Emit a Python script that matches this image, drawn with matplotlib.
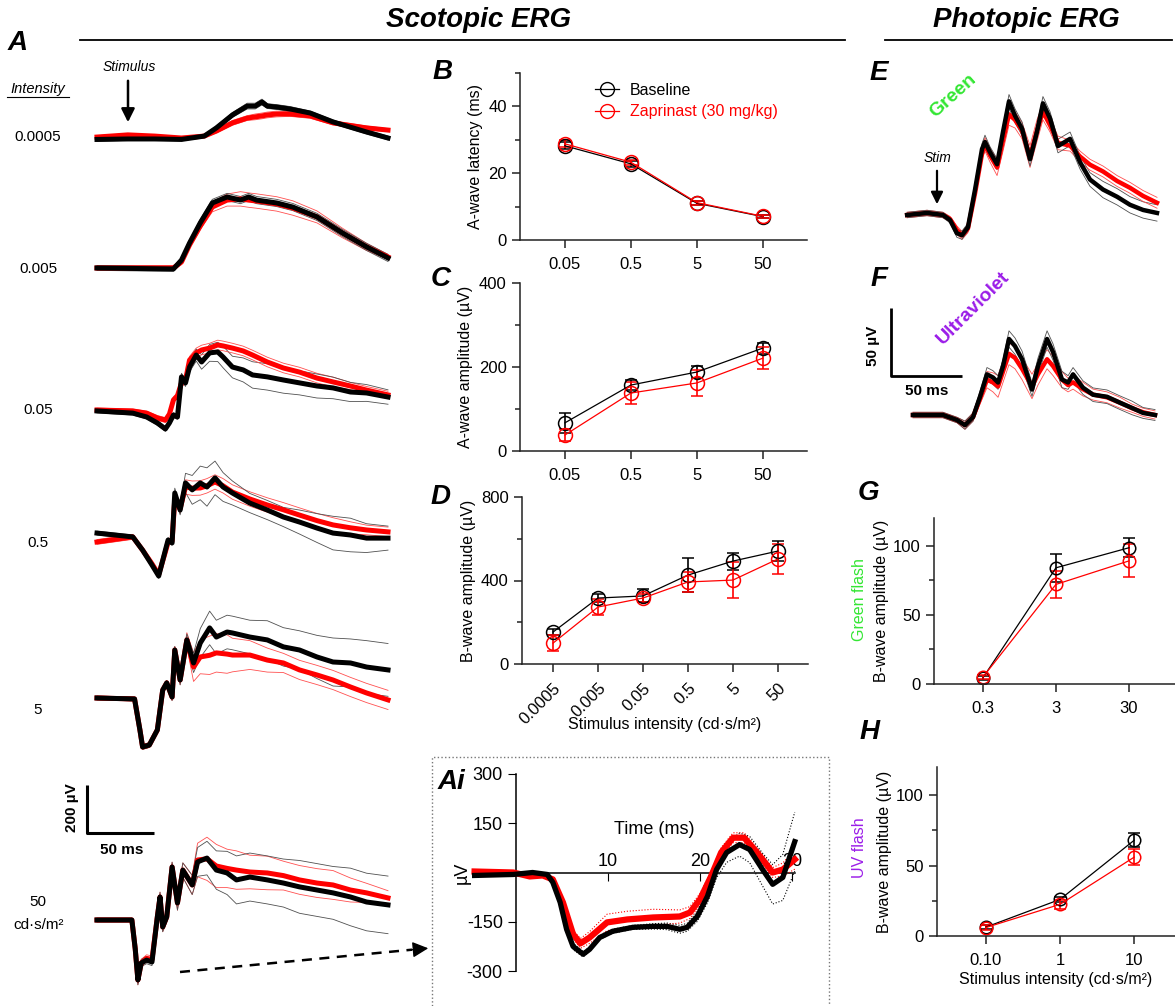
import numpy as np
import matplotlib
matplotlib.use("Agg")
from matplotlib import pyplot as plt
from matplotlib.lines import Line2D
from matplotlib.patches import Rectangle, FancyArrowPatch

plt.rcParams['font.family'] = ['Liberation Sans', 'DejaVu Sans']
plt.rcParams['axes.unicode_minus'] = False

# ---------------- data ----------------
# Panel A: scotopic ERG traces, time (ms) vs amplitude (uV), one list per intensity
int_labels = ['0.0005', '0.005', '0.05', '0.5', '5', '50']
a_time = [
    [-23, 0, 20, 40, 57, 66, 78, 89, 95, 100, 104, 111, 121, 136, 153, 178, 194],
    [-23, 34, 40, 46, 54, 63, 74, 84, 90, 96, 111, 123, 141, 160, 178, 194],
    [-23, 3.7, 14, 22, 28, 31, 34, 37, 40, 43, 46, 51, 55, 61, 67, 71, 78, 86, 93, 104, 116, 128, 141, 153, 166, 178, 194],
    [-23, 3.7, 11, 18, 23, 28, 30, 33, 35, 39, 43, 48, 54, 59, 65, 71, 78, 91, 104, 116, 128, 141, 153, 166, 178, 194],
    [-23, 5, 9, 11, 16, 22, 26, 29, 33, 35, 39, 44, 49, 54, 61, 66, 74, 78, 91, 104, 116, 128, 141, 153, 166, 178, 194],
    [-23, 3, 5.5, 7.5, 10, 14, 18, 22, 24, 26, 29, 33, 37, 41, 48, 52, 59, 66, 74, 81, 91, 104, 116, 128, 141, 153, 166, 178, 194],
]
a_base = [
    [-6, -4, -4, -6, 8, 42, 96, 133, 133, 150, 133, 129, 121, 104, 67, 25, 0],
    [0, -4, 33, 104, 188, 271, 296, 283, 296, 283, 271, 254, 213, 146, 88, 42],
    [-4, -13, -29, -54, -79, -54, -21, -29, 138, 113, 179, 229, 200, 238, 242, 221, 179, 167, 146, 138, 125, 113, 100, 92, 75, 71, 54],
    [8, -8, -63, -125, -171, -63, -21, -33, 175, 104, 217, 188, 217, 200, 238, 200, 175, 133, 104, 75, 54, 29, 8, 0, -13, -13],
    [0, -4, -133, -204, -196, -133, 33, 63, 4, 200, 75, 242, 146, 229, 292, 254, 275, 271, 254, 242, 213, 200, 171, 150, 146, 129, 117],
    [0, 0, -120, -250, -179, -167, -175, 13, 96, -29, 13, 221, 71, 208, 146, 242, 258, 208, 196, 167, 179, 167, 154, 138, 125, 113, 96, 75, 63],
]
a_zap = [
    [4, 13, 8, 0, 8, 29, 63, 83, 88, 92, 96, 100, 100, 92, 63, 42, 33],
    [0, 0, 25, 96, 175, 254, 283, 288, 283, 279, 267, 250, 213, 146, 88, 46],
    [0, -4, -13, -33, -42, -17, 42, 60, 113, 125, 208, 238, 250, 258, 271, 267, 258, 246, 229, 200, 175, 158, 133, 117, 100, 83, 63],
    [-29, -8, -63, -120, -165, -70, -30, -25, 150, 110, 200, 195, 196, 205, 221, 205, 179, 150, 125, 105, 83, 60, 42, 30, 21, 13],
    [0, -4, -133, -204, -196, -133, 33, 63, 4, 200, 75, 242, 129, 171, 178, 188, 183, 179, 179, 158, 146, 117, 96, 75, 46, 21, -8],
    [0, 0, -120, -250, -179, -160, -165, 13, 96, -29, 13, 221, 71, 208, 146, 250, 255, 225, 215, 208, 200, 196, 185, 167, 154, 146, 125, 113, 92],
]
a_base_sd = [
    [8, 6, 6, 6, 6, 8, 10, 12, 12, 12, 10, 10, 10, 8, 8, 8, 8],
    [10, 10, 10, 12, 15, 15, 15, 15, 15, 15, 15, 15, 15, 15, 15, 15],
    [8, 8, 8, 10, 10, 10, 10, 10, 15, 15, 20, 25, 30, 35, 40, 45, 45, 50, 55, 55, 55, 50, 50, 45, 40, 35, 30],
    [8, 8, 8, 10, 10, 10, 10, 10, 20, 20, 40, 60, 70, 80, 70, 60, 50, 40, 40, 40, 50, 60, 70, 70, 60, 50],
    [8, 8, 8, 10, 10, 10, 10, 10, 15, 15, 20, 25, 40, 60, 70, 70, 70, 70, 70, 80, 80, 80, 90, 100, 100, 110, 110],
    [8, 8, 15, 20, 15, 15, 15, 15, 20, 20, 20, 20, 30, 30, 40, 60, 70, 80, 90, 100, 100, 100, 100, 110, 110, 110, 120, 120, 120],
]
a_zap_sd = [
    [6, 5, 5, 5, 5, 8, 10, 10, 12, 12, 12, 12, 10, 10, 8, 8, 6],
    [10, 10, 10, 12, 15, 20, 25, 30, 30, 30, 30, 30, 25, 20, 15, 10],
    [8, 8, 8, 10, 10, 10, 10, 10, 15, 15, 15, 20, 20, 20, 20, 20, 20, 20, 20, 20, 20, 20, 20, 20, 15, 15, 15],
    [10, 10, 8, 10, 10, 10, 10, 10, 20, 20, 30, 30, 30, 30, 30, 30, 30, 30, 30, 30, 30, 30, 30, 25, 20, 20],
    [8, 8, 8, 10, 10, 10, 10, 10, 15, 15, 20, 30, 60, 70, 80, 80, 80, 70, 60, 50, 40, 40, 40, 40, 40, 40, 40],
    [8, 8, 15, 20, 15, 15, 15, 15, 20, 20, 20, 20, 30, 30, 40, 70, 90, 90, 80, 80, 70, 70, 60, 60, 60, 60, 50, 40, 30],
]

# Panel Ai: a-wave at 50 cd.s/m2
ai_t_base = [-4.5, -0.3, 1.8, 3.4, 4.0, 4.8, 5.5, 6.2, 7.3, 8.0, 9.1, 10.5, 12.7, 14.9, 16.4, 17.8, 18.6,
             19.7, 20.8, 21.8, 22.9, 24.3, 25.4, 26.8, 27.9, 29.0, 30.3]
ai_base = [-9, -6, 0, -6, -30, -91, -173, -225, -249, -234, -198, -179, -167, -164, -164, -173, -167,
           -134, -73, 9, 61, 85, 70, 9, -36, -15, 94]
ai_base_sem = [3, 3, 3, 3, 5, 8, 10, 10, 8, 6, 6, 6, 6, 8, 10, 12, 12, 15, 20, 25, 30, 35, 40, 50, 60, 70, 90]
ai_t_zap = [-4.5, -0.3, 1.5, 2.9, 4.0, 5.1, 6.2, 7.0, 8.0, 9.9, 12.1, 14.9, 17.8, 18.9, 20.0, 21.2,
            22.3, 23.6, 24.8, 26.2, 27.9, 29.0, 30.3]
ai_zap = [3, 0, -12, -9, -21, -91, -188, -216, -198, -152, -143, -137, -134, -122, -82, -12,
          61, 106, 106, 61, 0, 9, 40]
ai_zap_sem = [5, 5, 5, 5, 6, 8, 12, 15, 18, 25, 25, 25, 20, 18, 18, 15, 15, 15, 15, 15, 15, 20, 30]

# Panels B-D: scotopic summary
scot4 = ['0.05', '0.5', '5', '50']
scot6 = ['0.0005', '0.005', '0.05', '0.5', '5', '50']
lat_base = [28.2, 22.8, 11.0, 7.0]
lat_base_err = [1.0, 0.8, 0.6, 0.4]
lat_zap = [28.8, 23.3, 11.2, 7.1]
lat_zap_err = [1.0, 0.8, 0.6, 0.4]
aamp_base = [67, 157, 188, 245]
aamp_base_err = [23, 12, 15, 13]
aamp_zap = [38, 138, 162, 221]
aamp_zap_err = [15, 27, 30, 26]
bamp_base = [153, 316, 326, 426, 493, 541]
bamp_base_err = [15, 20, 31, 83, 41, 48]
bamp_zap = [100, 273, 316, 393, 402, 503]
bamp_zap_err = [38, 36, 20, 50, 86, 72]

# Panels E-F: photopic traces
e_time = [-21, -7, 4.2, 9.2, 14, 17.6, 21.8, 26.8, 31.7, 33.8, 37.3, 42.3, 46.5, 50.7, 54.9, 59.9, 65.5,
          70.4, 74.6, 79.6, 85.2, 93.7, 100.7, 107.7, 116.9, 126.8, 135.9, 145.1, 154.9]
e_base = [0, 1.5, 0, -3.7, -13.4, -14.9, -9, 18.7, 48.5, 53.7, 46.3, 37.3, 61.2, 83.6, 73.1, 63.4, 41,
          61.2, 82.1, 70.9, 50.7, 56, 38.8, 26.1, 18.7, 13.4, 7.5, 3.7, 1.5]
e_zap = [0, 1.5, 0, -3, -11, -15, -10, 16, 45, 52, 44, 35, 55, 74, 70, 62, 43,
         62, 76, 66, 53, 51, 43, 37, 32, 25, 20, 14, 9]
e_base_sd = [2, 2, 2, 2, 3, 3, 3, 3, 4, 5, 4, 4, 4, 5, 5, 5, 5, 5, 5, 5, 5, 5, 5, 5, 6, 6, 6, 6, 6]
e_zap_sd = [2, 2, 2, 2, 3, 3, 3, 3, 4, 5, 5, 6, 8, 8, 6, 6, 8, 8, 6, 5, 5, 4, 4, 4, 4, 4, 4, 4, 4]
f_time = [-16.9, 4.2, 14.1, 19.7, 25.4, 30.3, 35.2, 39.4, 43, 46.5, 50.7, 54.9, 59.9, 66.9, 71.1, 77.5,
          81.7, 88, 92.3, 95.8, 102.8, 109.9, 119.7, 128.9, 137.3, 145.1, 153.5]
f_base = [0, 0, -3.7, -7.5, -1.5, 13.4, 29.9, 27.6, 23.9, 35.8, 55.9, 50.7, 41, 18.7, 35.8, 55.9,
          46.3, 26.1, 23.9, 29.9, 20.1, 14.9, 13.4, 9, 5.2, 1.5, 0]
f_zap = [0, 0, -3.7, -7.5, -1.5, 12, 26, 24, 21, 32, 45, 42, 34, 21, 30, 41,
         36, 26, 22, 24, 19, 15, 13, 9, 5, 2, 0]
f_base_sd = [2, 2, 2, 3, 3, 4, 5, 5, 5, 5, 6, 6, 6, 5, 6, 6, 6, 6, 5, 5, 5, 5, 5, 5, 5, 4, 4]
f_zap_sd = [2, 2, 2, 3, 3, 4, 6, 7, 8, 8, 8, 8, 8, 9, 8, 7, 7, 6, 5, 5, 5, 4, 4, 4, 3, 3, 3]

# Panels G-H: photopic summary
green_cats = ['0.3', '3', '30']
green_base = [4.5, 84, 98.5]
green_base_err = [1.5, 10, 7]
green_zap = [5, 72, 89]
green_zap_err = [1.5, 9.5, 12]
uv_cats = ['0.10', '1', '10']
uv_base = [6.3, 26, 68]
uv_base_err = [1.5, 2, 5]
uv_zap = [6, 22.5, 56]
uv_zap_err = [1.5, 3, 5.5]

# ---------------- layout helpers ----------------
W, H = 1175, 1006
fig = plt.figure(figsize=(W / 100, H / 100), dpi=100)


def rect(x0, y0, x1, y1):
    return [x0 / W, 1 - y1 / H, (x1 - x0) / W, (y1 - y0) / H]


def fx(x):
    return x / W


def fy(y):
    return 1 - y / H


RED = '#ff0000'
GREEN = '#33e633'
PURPLE = '#9b1de8'
BI = dict(fontweight='bold', fontstyle='italic')


def letter(x, y, s):
    fig.text(fx(x), fy(y), s, ha='center', va='center', fontsize=20, **BI)


def traces(ax, t, base, zap, base_sd, zap_sd, off, lw_thin, lw_mean):
    t = np.array(t)
    b = np.array(base) + off
    z = np.array(zap) + off
    bs = np.array(base_sd)
    zs = np.array(zap_sd)
    for sgn in (1, -1):
        ax.plot(t, z + sgn * zs, color='#ff5050', lw=lw_thin, clip_on=False)
        ax.plot(t, b + sgn * bs, color='#505050', lw=lw_thin, clip_on=False)
    ax.plot(t, z, color=RED, lw=lw_mean, clip_on=False, solid_joinstyle='round')
    ax.plot(t, b, color='black', lw=lw_mean, clip_on=False, solid_joinstyle='round')


# ---------------- headers ----------------
fig.text(fx(479), fy(20), 'Scotopic ERG', ha='center', va='center', fontsize=20, **BI)
fig.text(fx(1026), fy(20), 'Photopic ERG', ha='center', va='center', fontsize=20, **BI)
fig.add_artist(Line2D([fx(80), fx(845)], [fy(40), fy(40)], color='black', lw=1.3))
fig.add_artist(Line2D([fx(885), fx(1172)], [fy(40), fy(40)], color='black', lw=1.3))

# ---------------- panel A ----------------
axA = fig.add_axes(rect(97, 60, 388, 1000))
axA.set_xlim(-23, 194)
axA.set_ylim(0, 940 / 0.24)
axA.axis('off')
base_px = [138, 268, 410, 535, 698, 920]
label_px = [137, 269, 410, 543, 710, 902]
for i in range(len(int_labels)):
    off = (1000 - base_px[i]) / 0.24
    traces(axA, a_time[i], a_base[i], a_zap[i], a_base_sd[i], a_zap_sd[i], off, 0.6, 3.6)
    fig.text(fx(38), fy(label_px[i]), int_labels[i], ha='center', va='center', fontsize=11)
fig.text(fx(39), fy(925), 'cd·s/m²', ha='center', va='center', fontsize=11)
fig.text(fx(38), fy(89), 'Intensity', ha='center', va='center', fontsize=10.5, fontstyle='italic')
fig.add_artist(Line2D([fx(7), fx(69)], [fy(97), fy(97)], color='black', lw=0.8))
fig.text(fx(129), fy(67), 'Stimulus', ha='center', va='center', fontsize=10, fontstyle='italic')
fig.add_artist(FancyArrowPatch((fx(128), fy(78)), (fx(128), fy(125)), transform=fig.transFigure,
                               arrowstyle='-|>', mutation_scale=20, lw=1.8, color='black'))
# scale bar 200 uV / 50 ms
sb_y = (1000 - 833) / 0.24
axA.plot([-30.6, -30.6, 19.4], [sb_y + 200, sb_y, sb_y], color='black', lw=2.2, clip_on=False,
         solid_capstyle='butt')
fig.text(fx(72), fy(808), '200 µV', rotation=90, ha='center', va='center', fontsize=11, fontweight='bold')
fig.text(fx(122), fy(850), '50 ms', ha='center', va='center', fontsize=11, fontweight='bold')
letter(18, 43, 'A')

# dashed arrow to Ai
fig.add_artist(Line2D([fx(180), fx(412)], [fy(972), fy(949.7)], color='black', lw=1.8, ls=(0, (4, 3))))
fig.add_artist(FancyArrowPatch((fx(405), fy(950.4)), (fx(431), fy(948)), transform=fig.transFigure,
                               arrowstyle='-|>', mutation_scale=24, lw=1.0, color='black'))


# ---------------- panels B-D, G-H ----------------
def dose_panel(px, cats, base, base_err, zap, zap_err, ylim, major, minor, xlim, ms, rot=False):
    ax = fig.add_axes(rect(*px))
    x = np.arange(len(cats))
    kw = dict(marker='o', mfc='none', ms=ms, mew=1.1, lw=0.9, elinewidth=1.2, capsize=4, capthick=1.2)
    ax.errorbar(x, base, yerr=base_err, color='black', **kw)
    ax.errorbar(x, zap, yerr=zap_err, color=RED, **kw)
    ax.set_xlim(*xlim)
    ax.set_ylim(*ylim)
    ax.set_yticks(major)
    ax.set_yticks(minor, minor=True)
    if rot:
        ax.set_xticks(x)
        ax.set_xticklabels(cats, rotation=45, ha='right', rotation_mode='anchor')
    else:
        ax.set_xticks(x, cats)
    for s in ('top', 'right'):
        ax.spines[s].set_visible(False)
    for s in ('left', 'bottom'):
        ax.spines[s].set_linewidth(1.1)
        ax.spines[s].set_color('#222222')
    ax.tick_params(which='major', length=6, width=1.1, labelsize=12, color='#222222')
    ax.tick_params(which='minor', length=3.5, width=1.1, color='#222222')
    ax.tick_params(axis='x', pad=6)
    return ax


axB = dose_panel((520, 73, 807, 240), scot4, lat_base, lat_base_err, lat_zap, lat_zap_err,
                 (0, 50), [0, 20, 40], [10, 30, 50], (-0.68, 3.67), 10)
axB.set_ylabel('A-wave latency (ms)', fontsize=11.5, labelpad=4)
handles = [Line2D([], [], color='black', marker='o', mfc='none', ms=10, lw=0.9),
           Line2D([], [], color=RED, marker='o', mfc='none', ms=10, lw=0.9)]
axB.legend(handles, ['Baseline', 'Zaprinast (30 mg/kg)'], loc='upper left', bbox_to_anchor=(0.26, 0.94),
           frameon=False, handlelength=1.5, handletextpad=0.7, labelspacing=0.4, fontsize=11.5,
           labelcolor=['black', RED], borderaxespad=0, borderpad=0)
letter(443, 72, 'B')

axC = dose_panel((520, 283, 807, 451), scot4, aamp_base, aamp_base_err, aamp_zap, aamp_zap_err,
                 (0, 400), [0, 200, 400], [100, 300], (-0.68, 3.67), 10)
axC.set_ylabel('A-wave amplitude (µV)', fontsize=11.5, labelpad=4)
letter(441, 279, 'C')

axD = dose_panel((522, 497, 808, 664), scot6, bamp_base, bamp_base_err, bamp_zap, bamp_zap_err,
                 (0, 800), [0, 400, 800], [200, 600], (-0.69, 5.67), 10, rot=True)
axD.set_ylabel('B-wave amplitude (µV)', fontsize=11.5, labelpad=4)
axD.set_xlabel('Stimulus intensity (cd·s/m²)', fontsize=11.5, labelpad=-7)
letter(441, 497, 'D')

axG = dose_panel((934, 518, 1175, 684), green_cats, green_base, green_base_err, green_zap, green_zap_err,
                 (0, 120), [0, 50, 100], [25, 75], (-0.67, 2.63), 9)
axG.set_ylabel('B-wave amplitude (µV)', fontsize=11.5, labelpad=3)
fig.text(fx(860), fy(600), 'Green flash', rotation=90, ha='center', va='center', fontsize=11.5, color=GREEN)
letter(868, 493, 'G')

axH = dose_panel((937, 767, 1175, 936), uv_cats, uv_base, uv_base_err, uv_zap, uv_zap_err,
                 (0, 120), [0, 50, 100], [25, 75], (-0.66, 2.55), 9)
axH.set_ylabel('B-wave amplitude (µV)', fontsize=11.5, labelpad=3)
axH.set_xlabel('Stimulus intensity (cd·s/m²)', fontsize=11.5, labelpad=3)
fig.text(fx(860), fy(848), 'UV flash', rotation=90, ha='center', va='center', fontsize=11.5, color=PURPLE)
letter(870, 732, 'H')

# ---------------- panel Ai ----------------
fig.add_artist(Rectangle((fx(432), fy(1012)), fx(829) - fx(432), fy(757) - fy(1012),
                         transform=fig.transFigure, fill=False, ls=':', lw=1.0, ec='#777777'))
axAi = fig.add_axes(rect(470, 774, 800, 971))
axAi.set_xlim(-5, 30.87)
axAi.set_ylim(-300, 300)
for s in ('bottom', 'right'):
    axAi.spines[s].set_visible(False)
axAi.spines['left'].set_position(('data', 0))
axAi.spines['top'].set_position(('data', 0))
axAi.spines['top'].set_bounds(0, 30.3)
axAi.xaxis.set_ticks_position('top')
axAi.set_xticks([10, 20, 30])
axAi.set_yticks([-300, -150, 150, 300])
axAi.tick_params(axis='x', direction='in', length=6, labelsize=13, pad=2)
axAi.tick_params(axis='y', direction='out', length=6, labelsize=13)
for s in ('left', 'top'):
    axAi.spines[s].set_linewidth(1.1)
zb = np.array(ai_base)
zz = np.array(ai_zap)
for sgn in (1, -1):
    axAi.plot(ai_t_zap, zz + sgn * np.array(ai_zap_sem), color=RED, lw=0.8, ls=':', zorder=3)
    axAi.plot(ai_t_base, zb + sgn * np.array(ai_base_sem), color='black', lw=0.8, ls=':', zorder=3)
axAi.plot(ai_t_zap, zz, color=RED, lw=4.5, zorder=3, solid_joinstyle='round')
axAi.plot(ai_t_base, zb, color='black', lw=3.8, zorder=4, solid_joinstyle='round')
axAi.text(15, 130, 'Time (ms)', ha='center', va='center', fontsize=13)
axAi.text(-5.8, 0, 'µV', rotation=90, ha='center', va='center', fontsize=13)
letter(451, 782, 'Ai')

# ---------------- panels E-F ----------------
axE = fig.add_axes(rect(907, 60, 1158, 440))
axE.set_xlim(-21.1, 155.6)
axE.set_ylim(0, 380 / 1.36)
axE.axis('off')
traces(axE, e_time, e_base, e_zap, e_base_sd, e_zap_sd, (440 - 215) / 1.36, 0.6, 3.2)
traces(axE, f_time, f_base, f_zap, f_base_sd, f_zap_sd, (440 - 415) / 1.36, 0.6, 3.2)
sb = (440 - 376) / 1.36
axE.plot([-32.4, -32.4, 17.6], [sb + 50, sb, sb], color='black', lw=2.0, clip_on=False,
         solid_capstyle='butt')
fig.text(fx(873), fy(346), '50 µV', rotation=90, ha='center', va='center', fontsize=11, fontweight='bold')
fig.text(fx(927), fy(391), '50 ms', ha='center', va='center', fontsize=11, fontweight='bold')
fig.text(fx(953), fy(96), 'Green', rotation=42, ha='center', va='center', fontsize=14,
         fontweight='bold', color=GREEN)
fig.text(fx(973), fy(308), 'Ultraviolet', rotation=45, ha='center', va='center', fontsize=14,
         fontweight='bold', color=PURPLE)
fig.text(fx(937), fy(158), 'Stim', ha='center', va='center', fontsize=10, fontstyle='italic')
fig.add_artist(FancyArrowPatch((fx(937), fy(168)), (fx(937), fy(207)), transform=fig.transFigure,
                               arrowstyle='-|>', mutation_scale=18, lw=1.6, color='black'))
letter(879, 73, 'E')
letter(879, 279, 'F')

fig.savefig('out.png', dpi=100)
